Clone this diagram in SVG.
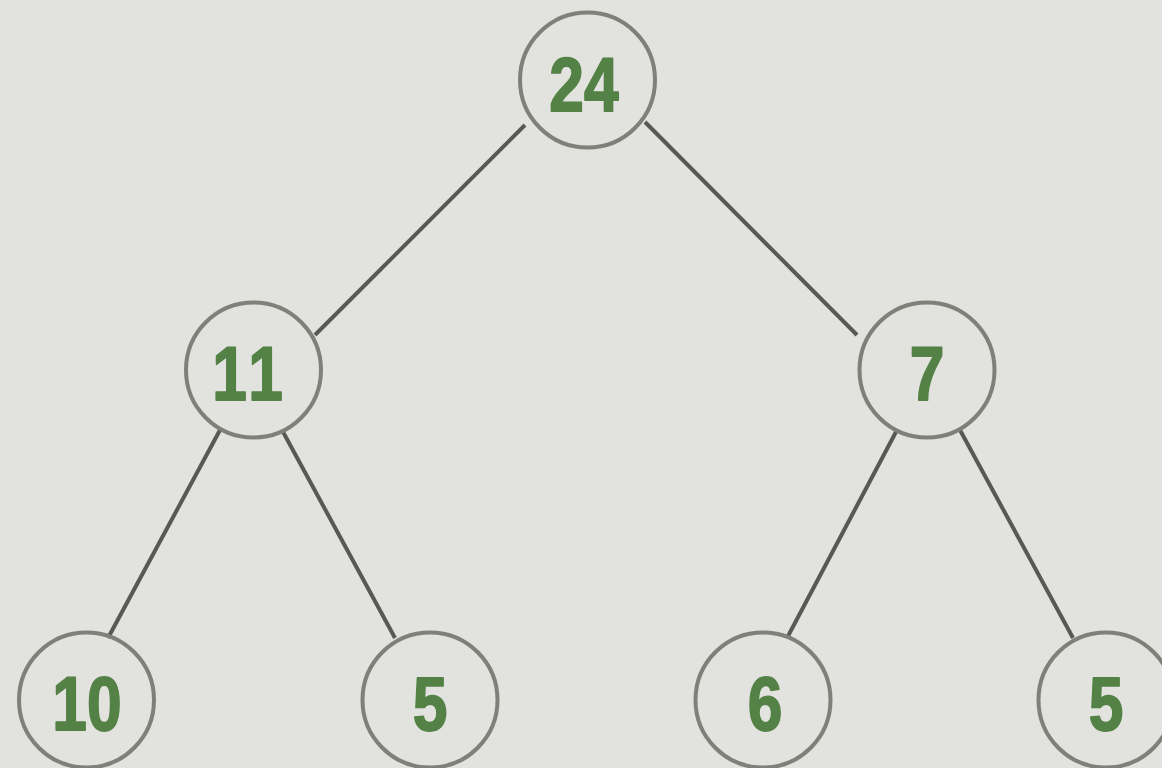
<svg xmlns="http://www.w3.org/2000/svg" width="1162" height="768" viewBox="0 0 1162 768">
<style>
.node circle{fill:none;stroke:#80807b;stroke-width:4}
.node text{font-family:"Liberation Sans",Arial,sans-serif;font-weight:bold;font-size:76px;fill:#548246;stroke:#548246;stroke-width:1.8;stroke-linejoin:round;text-anchor:middle}
#edges line{stroke:#585856;stroke-width:4}
</style>
<rect width="1162" height="768" fill="#e2e2de"/>
<g id="edges">
<line x1="525" y1="125" x2="315" y2="335"/>
<line x1="645" y1="122" x2="857" y2="335"/>
<line x1="220" y1="430" x2="108" y2="638"/>
<line x1="282" y1="430" x2="395" y2="638"/>
<line x1="897" y1="430" x2="787" y2="638"/>
<line x1="960" y1="430" x2="1073" y2="638"/>
</g>
<g id="n24" class="node"><circle cx="587.5" cy="80" r="67.5"/><text transform="translate(584,111) scale(0.82,1)">24</text></g>
<g id="n11" class="node"><circle cx="253.5" cy="370" r="67.5"/><text transform="translate(250,400) scale(0.82,1)" letter-spacing="6">11</text></g>
<g id="n7" class="node"><circle cx="927" cy="370" r="67.5"/><text transform="translate(927,400) scale(0.82,1)">7</text></g>
<g id="n10" class="node"><circle cx="86.5" cy="700" r="67.5"/><text transform="translate(87,730) scale(0.82,1)">10</text></g>
<g id="n5a" class="node"><circle cx="430" cy="700" r="67.5"/><text transform="translate(430,730) scale(0.82,1)">5</text></g>
<g id="n6" class="node"><circle cx="763" cy="700" r="67.5"/><text transform="translate(765,730) scale(0.82,1)">6</text></g>
<g id="n5b" class="node"><circle cx="1106" cy="700" r="67.5"/><text transform="translate(1106,730) scale(0.82,1)">5</text></g>
</svg>
